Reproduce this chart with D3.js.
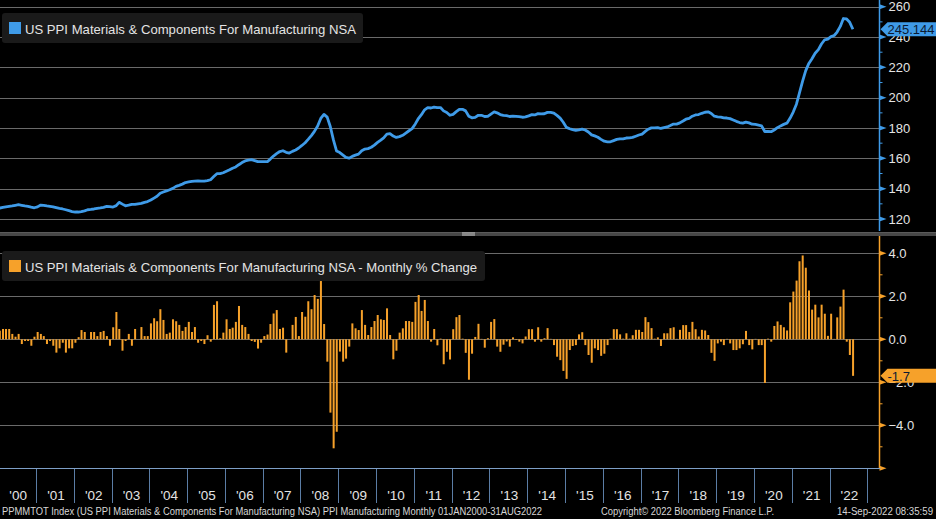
<!DOCTYPE html>
<html>
<head>
<meta charset="utf-8">
<script src="https://cdn.jsdelivr.net/npm/d3@7"></script>
<style>
  html, body { margin: 0; background: #000; overflow: hidden; }
  svg { display: block; }
  text { font-family: "Liberation Sans", Arial, sans-serif; }
</style>
</head>
<body>
<div id="chart"></div>
<script>
// monthly index level, Jan 2000 .. Aug 2022 (one row per year)
var ppiLevel = [
  127.2, 127.6, 128.0, 128.3, 128.6, 129.0, 129.4, 129.0, 128.6, 128.3, 127.8, 127.4,
  128.0, 129.2, 129.0, 128.6, 128.3, 128.0, 127.5, 127.0, 126.6, 126.1, 125.5, 124.9,
  124.6, 124.6, 124.8, 125.4, 126.1, 126.3, 126.6, 127.0, 127.3, 127.7, 128.3, 128.1,
  127.9, 128.8, 131.0, 129.8, 128.7, 129.1, 129.6, 129.6, 130.0, 130.3, 131.0, 131.5,
  132.5, 133.8, 135.0, 137.0, 137.8, 138.5, 139.3, 140.2, 141.5, 142.2, 143.0, 144.0,
  144.4, 144.8, 145.0, 145.2, 145.0, 145.0, 145.3, 145.9, 148.0, 149.9, 149.9, 150.5,
  151.5, 152.5, 153.5, 154.3, 155.8, 157.2, 158.3, 158.8, 159.1, 158.5, 157.8, 157.8,
  157.8, 157.8, 159.5, 161.5, 163.1, 164.5, 165.0, 164.0, 163.5, 164.6, 165.5, 166.8,
  168.5, 170.3, 172.5, 175.0, 177.8, 181.3, 186.3, 189.0, 187.2, 181.0, 172.0, 164.8,
  163.8, 162.1, 160.6, 160.1, 161.3, 162.1, 162.8, 165.0, 166.1, 166.4, 167.3, 168.7,
  170.5, 172.0, 173.5, 176.0, 176.3, 174.7, 173.8, 174.3, 175.2, 176.7, 178.2, 179.6,
  182.7, 186.4, 188.8, 192.0, 193.4, 193.2, 193.8, 193.4, 193.5, 191.3, 190.2, 188.4,
  189.0, 190.8, 192.3, 192.3, 191.3, 187.8, 186.7, 187.0, 188.4, 188.4, 187.6, 187.7,
  189.2, 190.6, 190.0, 188.9, 188.4, 188.2, 187.6, 187.8, 187.7, 187.5, 187.1, 187.3,
  188.0, 188.8, 188.6, 189.5, 189.3, 189.4, 190.3, 190.3, 189.8, 188.3, 186.5, 183.8,
  180.4, 179.5, 178.9, 178.4, 178.7, 179.2, 178.7, 177.4, 175.5, 174.8, 173.9, 172.5,
  171.3, 170.8, 170.9, 171.7, 172.5, 172.9, 172.9, 173.4, 173.5, 173.8, 174.6, 175.4,
  176.0, 177.8, 179.2, 180.1, 180.1, 180.3, 179.7, 180.2, 180.7, 181.6, 182.6, 182.6,
  183.4, 184.6, 185.8, 186.4, 187.8, 188.6, 188.9, 189.7, 190.4, 190.7, 189.6, 187.8,
  187.4, 187.2, 186.7, 186.6, 186.2, 185.3, 184.4, 183.6, 183.2, 183.9, 183.4, 182.5,
  182.4, 181.9, 181.4, 177.7, 177.8, 177.6, 178.7, 180.2, 181.4, 182.4, 183.2, 186.4,
  190.5, 195.7, 202.8, 210.7, 217.7, 222.6, 225.7, 229.3, 231.7, 235.4, 238.2, 238.6,
  240.3, 241.0, 243.3, 247.0, 252.2, 251.9, 249.7, 245.144
];

// monthly % change, Jan 2000 .. Aug 2022
var ppiChange = [
  0.4, 0.48, 0.48, 0.48, 0.25, 0.12, 0.25, -0.22, -0.08, -0.08, -0.3, 0.12,
  0.34, 0.25, 0.15, -0.22, -0.08, -0.3, -0.62, -0.42, -0.16, -0.62, -0.42, -0.42,
  -0.16, 0.1, 0.43, 0.34, 0, 0.34, 0.34, 0.15, 0.34, 0.39, 0.15, -0.3,
  0.56, 1.27, 0.48, -0.53, -0.08, 0.25, -0.3, 0.48, 0, 0.57, 0.15, 0.15,
  0.74, 0.98, 0.84, 1.4, 0.9, 0.25, 0.31, 0.93, 0.84, 0.67, 0.39, 0.57,
  0.81, 0.34, 0.57, -0.16, -0.08, -0.22, 0.19, -0.11, 1.6, 1.77, 0.05, 0.31,
  0.93, 0.48, 0.54, 0.81, 1.55, 0.67, 0.57, 0.25, -0.08, -0.12, -0.43, -0.16,
  0.15, 0.22, 0.71, 1.2, 1.36, 0.48, 0.54, -0.62, 0, 0.67, 1.04, 0.15,
  1.27, 1.05, 1.77, 1.4, 2.06, 1.88, 2.71, 0.71, -1.04, -3.41, -5.07, -4.3,
  -0.57, -1.04, -0.9, -0.34, 0.74, 0.51, 0.43, 1.36, 0.67, 0.2, 0.57, 0.85,
  1.13, 0.93, 0.9, 1.44, 0.2, -0.93, -0.53, 0.31, 0.51, 0.85, 0.85, 0.81,
  1.74, 2.06, 1.32, 1.83, 0.85, -0.11, 0.48, -0.28, 0.03, -1.16, -0.58, -0.94,
  0.47, 1.03, 1.13, 0.03, -0.63, -1.88, -0.67, 0.11, 0.72, 0.02, -0.39, 0.05,
  0.81, 0.94, -0.34, -0.58, -0.25, -0.1, -0.34, 0.09, -0.03, -0.11, -0.19, 0.13,
  0.47, 0.47, -0.11, 0.56, -0.11, 0.05, 0.52, 0.02, -0.27, -0.81, -0.97, -1.47,
  -1.84, -0.5, -0.31, -0.27, 0.23, 0.33, -0.27, -0.73, -1.09, -0.42, -0.5, -0.77,
  -0.67, -0.27, 0.03, 0.47, 0.47, 0.23, 0.03, 0.28, 0.03, 0.19, 0.44, 0.44,
  0.34, 1.03, 0.8, 0.52, 0.03, 0.09, -0.31, 0.28, 0.28, 0.52, 0.56, 0.02,
  0.44, 0.66, 0.66, 0.34, 0.81, 0.47, 0.13, 0.44, 0.41, 0.2, -0.63, -1.0,
  -0.19, -0.11, -0.27, 0.02, -0.19, -0.5, -0.5, -0.42, -0.23, 0.39, -0.27, -0.47,
  0.02, -0.27, -0.27, -2.03, 0.03, -0.11, 0.62, 0.83, 0.67, 0.56, 0.41, 1.72,
  2.22, 2.73, 3.63, 3.9, 3.33, 2.27, 1.38, 1.61, 1.02, 1.61, 1.19, 0.16,
  1.19, 0.02, 1.02, 1.52, 2.31, -0.11, -0.73, -1.7
];

var yearLabels = ["'00", "'01", "'02", "'03", "'04", "'05", "'06", "'07", "'08", "'09", "'10", "'11",
                  "'12", "'13", "'14", "'15", "'16", "'17", "'18", "'19", "'20", "'21", "'22"];
var levelTicks = [120, 140, 160, 180, 200, 220, 240, 260];
var levelMinor = [130, 150, 170, 190, 210, 230, 250];
var changeTicks = [-4, -2, 0, 2, 4];
var changeMarks = [-6, -4, -2, 0, 2, 4];
var changeMinor = [-5, -3, -1, 1, 3];

var levelTitle = "US PPI Materials & Components For Manufacturing NSA";
var changeTitle = "US PPI Materials & Components For Manufacturing NSA - Monthly % Change";
var footerLeft = "PPMMTOT Index (US PPI Materials & Components For Manufacturing NSA) PPI Manufacturing  Monthly 01JAN2000-31AUG2022";
var footerMid = "Copyright\u00a9 2022 Bloomberg Finance L.P.";
var footerRight = "14-Sep-2022 08:35:59";

var blue = "#3f9be8", orange = "#f6a12a", grid = "#6a6a6a", txt = "#e4e4e4";
var W = 936, H = 519, axisX = 879.5;

var svg = d3.select("#chart").append("svg").attr("width", W).attr("height", H);
svg.append("rect").attr("width", W).attr("height", H).attr("fill", "#000");

var x = d3.scaleTime().domain([new Date(2000, 0, 1), new Date(2023, 0, 1)]).range([-1.8, 867.3]);
var yTop = d3.scaleLinear().domain([120, 260]).range([219, 6.7]);
var yBot = d3.scaleLinear().domain([-6, 4]).range([468.3, 253.3]);

function monthDate(i, day) { return new Date(2000, i, day); }

// ---------- gridlines ----------
svg.append("g").selectAll("line").data(levelTicks).enter().append("line")
  .attr("x1", 0).attr("x2", axisX)
  .attr("y1", function(d) { return Math.round(yTop(d)) + 0.5; })
  .attr("y2", function(d) { return Math.round(yTop(d)) + 0.5; })
  .attr("stroke", grid);

svg.append("g").selectAll("line").data(changeTicks).enter().append("line")
  .attr("x1", 0).attr("x2", axisX)
  .attr("y1", function(d) { return Math.round(yBot(d)) + 0.5; })
  .attr("y2", function(d) { return Math.round(yBot(d)) + 0.5; })
  .attr("stroke", grid);

// ---------- legends ----------
function legend(y0, w, color, label, len) {
  svg.append("rect").attr("x", 2).attr("y", y0).attr("width", w).attr("height", 30)
    .attr("rx", 3).attr("fill", "#1a1a1a");
  svg.append("rect").attr("x", 9).attr("y", y0 + 9).attr("width", 12).attr("height", 12)
    .attr("fill", color);
  svg.append("text").attr("x", 25).attr("y", y0 + 20.5)
    .attr("fill", txt).style("font-size", "13.5px")
    .attr("textLength", len).attr("lengthAdjust", "spacingAndGlyphs")
    .text(label);
}
legend(13, 361, blue, levelTitle, 331);
legend(251, 483, orange, changeTitle, 452);

// ---------- bars ----------
svg.append("g").selectAll("rect").data(ppiChange).enter().append("rect")
  .attr("x", function(d, i) { return x(monthDate(i, 1)) + 0.6; })
  .attr("width", 2)
  .attr("y", function(d) { return yBot(Math.max(0, d)); })
  .attr("height", function(d) { return Math.abs(yBot(d) - yBot(0)); })
  .attr("fill", orange);

// ---------- line ----------
var line = d3.line()
  .x(function(d, i) { return x(monthDate(i, 15)); })
  .y(function(d) { return yTop(d); });

svg.append("path").datum(ppiLevel)
  .attr("d", line)
  .attr("fill", "none")
  .attr("stroke", blue)
  .attr("stroke-width", 2.8)
  .attr("stroke-linejoin", "round");

// ---------- right axes ----------
function rightAxis(scale, marks, labels, minor, color, fmt, y0, y1) {
  var g = svg.append("g").attr("transform", "translate(" + axisX + ",0)");
  g.append("line").attr("y1", y0).attr("y2", y1).attr("stroke", color).attr("stroke-width", 1.5);
  g.selectAll("path.tri").data(marks).enter().append("path")
    .attr("class", "tri")
    .attr("d", function(d) { var y = scale(d); return "M0," + (y - 2.5) + "L7," + y + "L0," + (y + 2.5) + "Z"; })
    .attr("fill", color);
  g.selectAll("line.minor").data(minor).enter().append("line")
    .attr("class", "minor")
    .attr("x1", 0).attr("x2", 3)
    .attr("y1", function(d) { return scale(d); }).attr("y2", function(d) { return scale(d); })
    .attr("stroke", color);
  var ax = d3.axisRight(scale).tickValues(labels).tickSize(0).tickPadding(9).tickFormat(fmt);
  var a = svg.append("g").attr("transform", "translate(" + axisX + ",0)").call(ax);
  a.select(".domain").remove();
  a.selectAll("text").attr("fill", txt).style("font-size", "13px");
}
rightAxis(yTop, levelTicks, levelTicks, levelMinor, blue, d3.format("d"), 0, 231);
rightAxis(yBot, changeMarks, changeTicks, changeMinor, orange, d3.format(".1f"), 236, 468.3);

// ---------- x axis ----------
var yearStarts = d3.range(2001, 2024).map(function(yr) { return new Date(yr, 0, 1); });
svg.append("line").attr("x1", 0).attr("x2", axisX + 1).attr("y1", 468.5).attr("y2", 468.5)
  .attr("stroke", "#7d9ec6").attr("stroke-width", 1.2);
svg.append("g").selectAll("line").data(yearStarts).enter().append("line")
  .attr("x1", function(d) { return Math.round(x(d)) + 0.5; })
  .attr("x2", function(d) { return Math.round(x(d)) + 0.5; })
  .attr("y1", 469).attr("y2", 503)
  .attr("stroke", "#5b7da5");
svg.append("g").selectAll("text").data(yearLabels).enter().append("text")
  .attr("x", function(d, i) { return (x(new Date(2000 + i, 0, 1)) + x(new Date(2001 + i, 0, 1))) / 2 + 1; })
  .attr("y", 500)
  .attr("text-anchor", "middle")
  .attr("fill", txt).style("font-size", "13.5px")
  .text(function(d) { return d; });

// ---------- separator ----------
svg.append("rect").attr("x", 0).attr("y", 232).attr("width", W).attr("height", 4).attr("fill", "#474747");
svg.append("rect").attr("x", 0).attr("y", 232).attr("width", W).attr("height", 1).attr("fill", "#5a5a5a");
svg.append("rect").attr("x", 462).attr("y", 232.5).attr("width", 13).attr("height", 1).attr("fill", "#c8c8c8");
svg.append("rect").attr("x", 462).attr("y", 234.5).attr("width", 13).attr("height", 1).attr("fill", "#c8c8c8");

// ---------- last value labels ----------
function valueTag(y, color, label) {
  svg.append("path")
    .attr("d", "M" + (axisX + 1) + "," + y + "L" + (axisX + 8) + "," + (y - 7) + "L" + W + "," + (y - 7) +
               "L" + W + "," + (y + 7) + "L" + (axisX + 8) + "," + (y + 7) + "Z")
    .attr("fill", color);
  svg.append("text").attr("x", axisX + 8).attr("y", y + 5)
    .attr("fill", "#0c1a33").style("font-size", "13px")
    .text(label);
}
valueTag(yTop(ppiLevel[ppiLevel.length - 1]), blue, d3.format(".3f")(ppiLevel[ppiLevel.length - 1]));
valueTag(yBot(ppiChange[ppiChange.length - 1]), orange, d3.format(".1f")(ppiChange[ppiChange.length - 1]).replace("\u2212", "-"));

// ---------- footer ----------
function foot(xp, label, len) {
  svg.append("text").attr("x", xp).attr("y", 515)
    .attr("fill", "#d6d6d6").style("font-size", "10px")
    .attr("textLength", len).attr("lengthAdjust", "spacingAndGlyphs")
    .text(label);
}
foot(2, footerLeft, 540);
foot(601, footerMid, 173);
foot(837, footerRight, 96);
</script>
</body>
</html>
